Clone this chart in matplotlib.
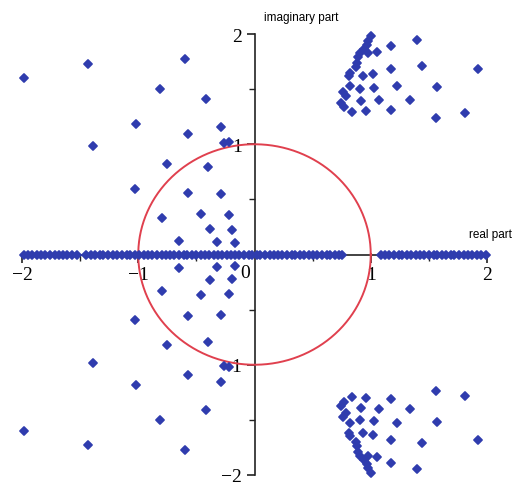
import numpy as np
import matplotlib.pyplot as plt
from matplotlib.markers import MarkerStyle

# real roots (on the real axis)
real_roots = [-1.98, -1.95, -1.91, -1.87, -1.84, -1.80, -1.76, -1.72, -1.68, -1.65,
              -1.61, -1.57, -1.53, -1.45, -1.41, -1.37, -1.33, -1.30, -1.26, -1.22,
              -1.18, -1.14, -1.10, -1.07, -1.03, -0.99, -0.95, -0.92, -0.88, -0.84,
              -0.80, -0.76, -0.73, -0.69, -0.65, -0.61, -0.58, -0.54, -0.50, -0.46,
              -0.43, -0.39, -0.35, -0.31, -0.28, -0.24, -0.20, -0.17, -0.13, -0.09,
              -0.05, -0.02, 0.02, 0.05, 0.09, 0.13, 0.17, 0.20, 0.24, 0.28,
              0.32, 0.35, 0.39, 0.43, 0.47, 0.50, 0.54, 0.58, 0.62, 0.65,
              0.69, 0.73, 0.75,
              1.09, 1.12, 1.16, 1.20, 1.24, 1.27, 1.31, 1.35, 1.39, 1.42,
              1.46, 1.50, 1.54, 1.57, 1.61, 1.65, 1.69, 1.72, 1.76, 1.80,
              1.84, 1.87, 1.91, 1.95, 1.99]

# complex roots, upper half plane (conjugates are added below)
left_re = [-1.98, -1.43, -0.60, -0.81, -0.42, -1.02, -0.57, -0.29, -1.39, -0.26,
           -0.22, -0.75, -0.40, -1.03, -0.57, -0.29, -0.80, -0.46, -0.22, -0.38,
           -0.19, -0.65, -0.32, -0.17]
left_im = [1.60, 1.73, 1.77, 1.50, 1.41, 1.18, 1.09, 1.16, 0.98, 1.01,
           1.02, 0.82, 0.79, 0.59, 0.56, 0.55, 0.33, 0.37, 0.36, 0.23,
           0.22, 0.12, 0.11, 0.10]

right_re = [1.00, 0.98, 0.966, 0.946, 0.975, 1.055, 0.91, 0.894, 0.88, 0.874,
            0.82, 0.81, 0.93, 1.02, 1.175, 1.40, 1.175, 1.44, 1.92, 0.82,
            0.765, 0.79, 0.91, 1.03, 1.23, 1.57, 0.74, 0.77, 0.84, 0.92,
            1.07, 1.34, 0.96, 1.175, 1.56, 1.81]
right_im = [1.98, 1.94, 1.90, 1.86, 1.83, 1.84, 1.83, 1.79, 1.74, 1.70,
            1.65, 1.62, 1.62, 1.64, 1.89, 1.95, 1.68, 1.71, 1.68, 1.53,
            1.47, 1.44, 1.50, 1.51, 1.53, 1.52, 1.37, 1.34, 1.29, 1.39,
            1.40, 1.40, 1.30, 1.31, 1.24, 1.28]

x_ticks = [-2, -1, 1, 2]
y_ticks = [-2, -1, 1, 2]
tick_labels = ["\u22122", "\u22121", "1", "2"]

dot_color = "#2f3cae"
serif = "Liberation Serif"
dot = MarkerStyle("D", joinstyle="round")
dot_kw = dict(ls="none", marker=dot, color=dot_color, ms=4.0, mec=dot_color,
              mew=1.3, clip_on=False, zorder=4)

fig = plt.figure(figsize=(5.13, 4.85), dpi=100)
ax = fig.add_axes([22 / 513, 9 / 485, 465 / 513, 441 / 485])
ax.set_xlim(-2, 2)
ax.set_ylim(-2, 2)

# unit circle
t = np.linspace(0, 2 * np.pi, 400)
ax.plot(np.cos(t), np.sin(t), color="#e0404e", lw=1.4, zorder=2)

cre = np.array(left_re + right_re)
cim = np.array(left_im + right_im)
ax.plot(real_roots, np.zeros(len(real_roots)), **dot_kw)
ax.plot(cre, cim, **dot_kw)
ax.plot(cre, -cim, **dot_kw)

# axes through the origin
for s in ["top", "right"]:
    ax.spines[s].set_visible(False)
ax.spines["left"].set_position(("data", 0))
ax.spines["bottom"].set_position(("data", 0))
for s in ["left", "bottom"]:
    ax.spines[s].set_linewidth(1.2)
    ax.spines[s].set_color("#222222")
    ax.spines[s].set_zorder(1)

ax.set_xticks(x_ticks)
ax.set_xticklabels(tick_labels, fontfamily=serif, fontsize=14)
ax.set_yticks(y_ticks)
ax.set_yticklabels(tick_labels, fontfamily=serif, fontsize=14)
ax.set_xticks([-1.5, -0.5, 0.5, 1.5], minor=True)
ax.set_yticks([-1.5, -0.5, 0.5, 1.5], minor=True)
ax.tick_params(which="major", direction="out", length=6, width=1.2, color="#222222", pad=2)
ax.tick_params(which="minor", direction="out", length=4, width=1.0, color="#222222")
ax.tick_params(axis="y", pad=3)

ax.text(-0.08, -0.09, "0", fontfamily=serif, fontsize=14, ha="center", va="top")
ax.text(0.08, 2.15, "imaginary part", fontfamily="Liberation Sans", fontsize=8.5,
        ha="left", va="center")
ax.text(2.21, 0.19, "real part", fontfamily="Liberation Sans", fontsize=8.5,
        ha="right", va="center")

ax.set_facecolor("none")
fig.savefig("out.png", dpi=100)
